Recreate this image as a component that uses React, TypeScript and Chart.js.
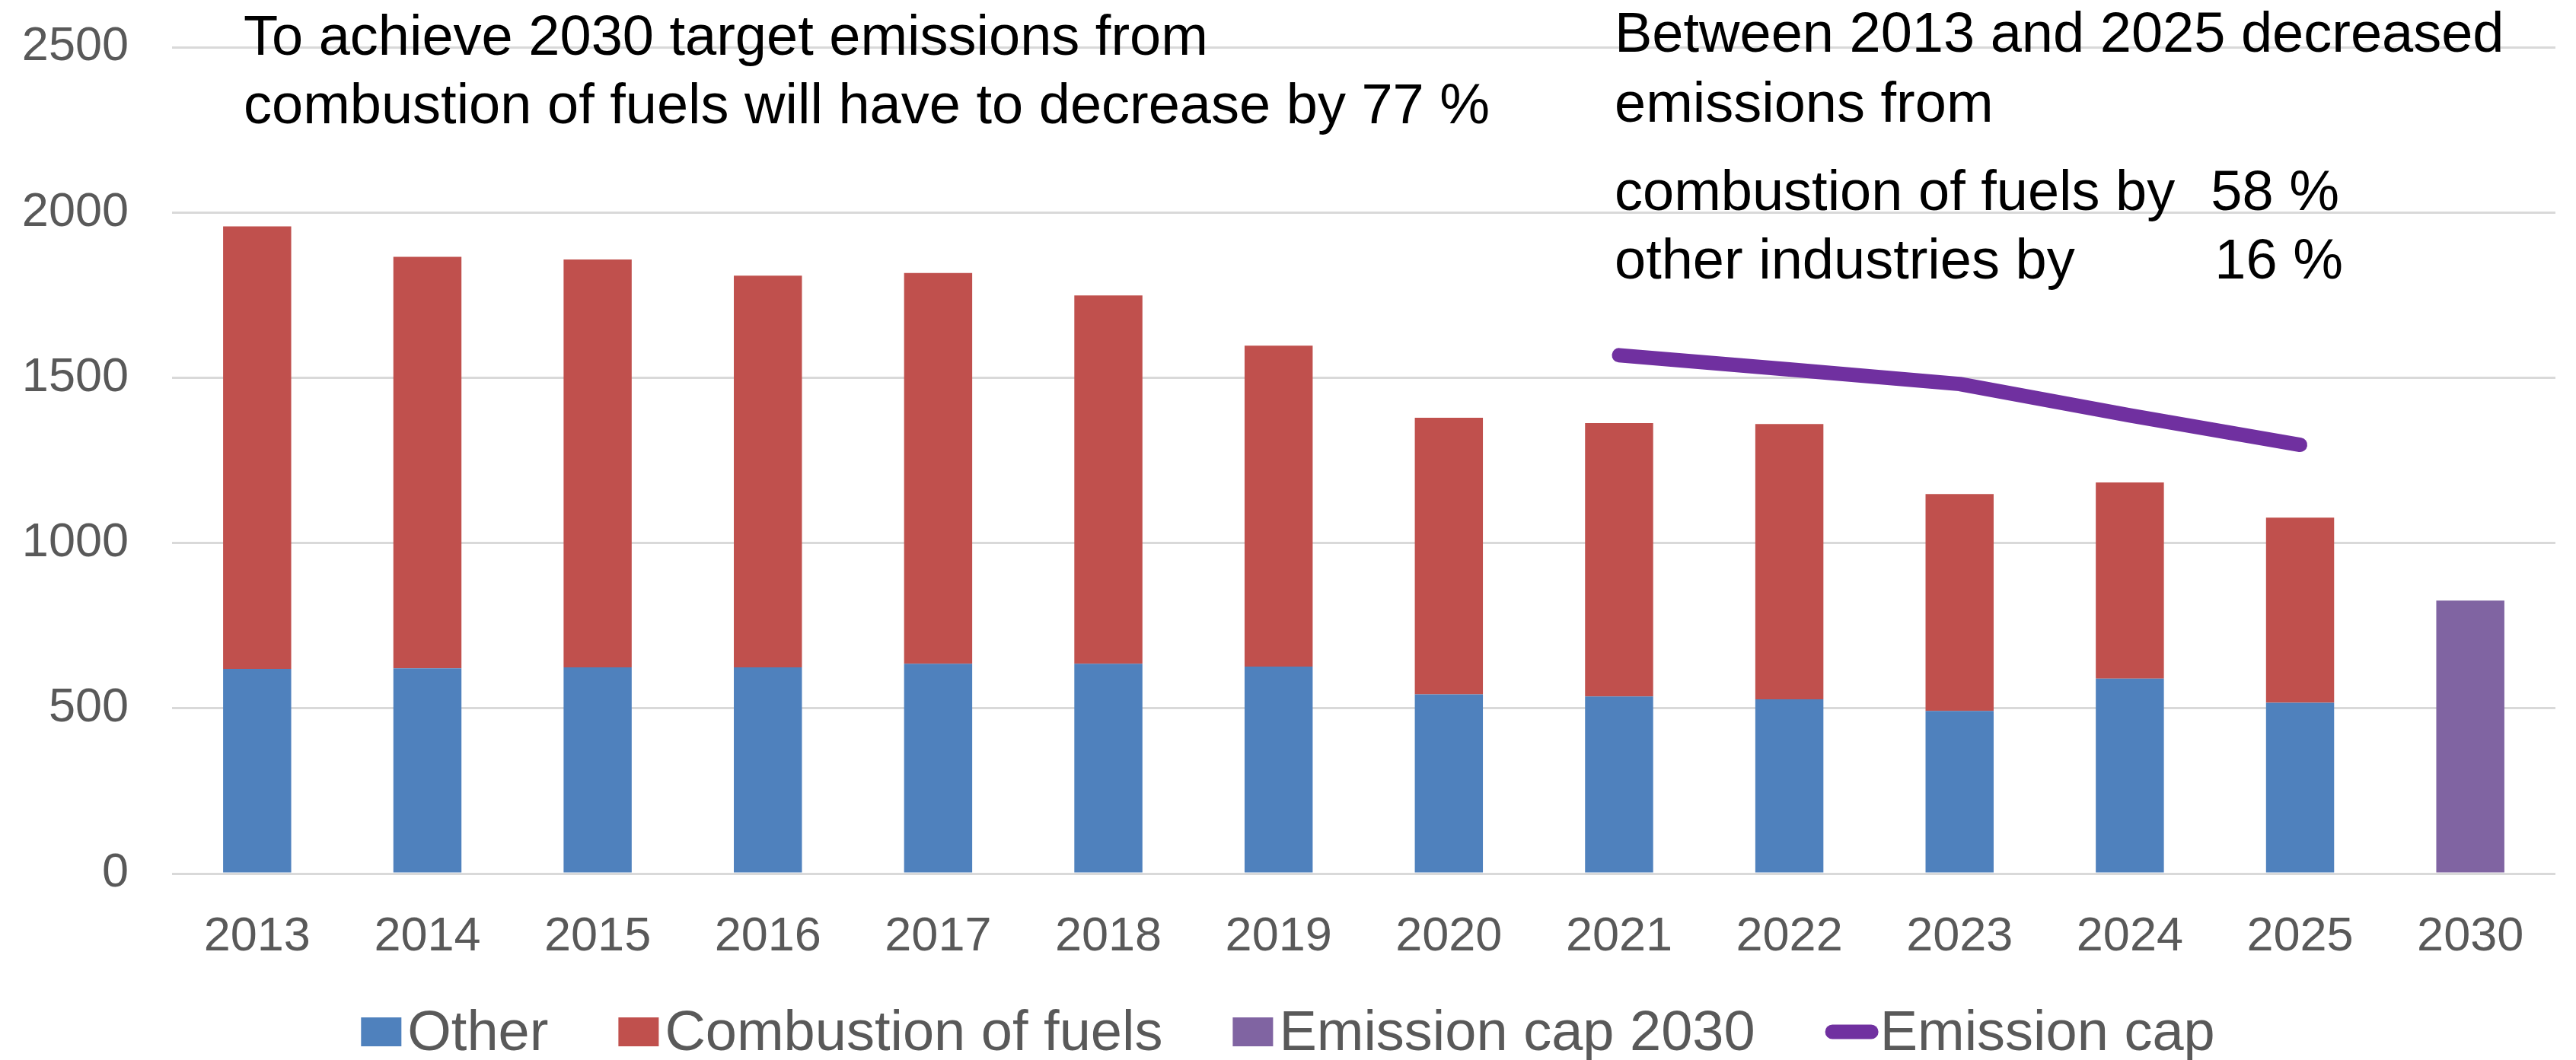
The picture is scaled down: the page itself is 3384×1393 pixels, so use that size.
import { useEffect, useRef } from "react";
import { Chart, registerables } from "chart.js";

Chart.register(...registerables);

const years = ["2013", "2014", "2015", "2016", "2017", "2018", "2019", "2020", "2021", "2022", "2023", "2024", "2025", "2030"];
const other = [619, 621, 624, 624, 635, 635, 626, 542, 536, 527, 492, 590, 517, null];
const combustion = [1339, 1245, 1234, 1185, 1182, 1114, 971, 837, 827, 833, 656, 593, 560, null];
const cap2030 = [null, null, null, null, null, null, null, null, null, null, null, null, null, 826];
const emissionCap = [null, null, null, null, null, null, null, null, 1568, 1525, 1481, 1386, 1297, null];
const yTicks = [0, 500, 1000, 1500, 2000, 2500];

const leftNote = ["To achieve 2030 target emissions from", "combustion of fuels will have to decrease by 77 %"];
const rightNote = ["Between 2013 and 2025 decreased", "emissions from"];
const rightRows = [
  ["combustion of fuels by", "58 %"],
  ["other industries by", "16 %"],
];

const FONT = "'Liberation Sans', Arial, Helvetica, sans-serif";

export default function App() {
  const ref = useRef<HTMLCanvasElement | null>(null);

  useEffect(() => {
    document.body.style.margin = "0";
    if (!ref.current) return;

    const notesPlugin = {
      id: "notes",
      afterDraw(chart: any) {
        const ctx = chart.ctx as CanvasRenderingContext2D;
        ctx.save();
        ctx.fillStyle = "#000000";
        ctx.font = `74px ${FONT}`;
        ctx.textBaseline = "alphabetic";
        ctx.textAlign = "left";
        ctx.fillText(leftNote[0], 320, 72);
        ctx.fillText(leftNote[1], 320, 162);
        ctx.fillText(rightNote[0], 2121, 68);
        ctx.fillText(rightNote[1], 2121, 160);
        const rowY = [276, 366];
        const rowRight = [3073, 3078];
        rightRows.forEach((r, i) => {
          ctx.textAlign = "left";
          ctx.fillText(r[0], 2121, rowY[i]);
          ctx.textAlign = "right";
          ctx.fillText(r[1], rowRight[i], rowY[i]);
        });
        ctx.restore();
      },
    };

    const legendPlugin = {
      id: "customLegend",
      afterDraw(chart: any) {
        const ctx = chart.ctx as CanvasRenderingContext2D;
        ctx.save();
        ctx.font = `74px ${FONT}`;
        ctx.textBaseline = "alphabetic";
        ctx.textAlign = "left";
        const items = chart.data.datasets.map((ds: any) => {
          const isLine = ds.type === "line";
          const mw = isLine ? 70 : 53;
          const gap = isLine ? 2 : 8;
          const tw = ctx.measureText(ds.label).width;
          return { ds, isLine, mw, gap, tw, w: mw + gap + tw };
        });
        const itemGap = 92;
        const total = items.reduce((s: number, it: any) => s + it.w, 0) + itemGap * (items.length - 1);
        let x = chart.width / 2 - total / 2;
        const cy = 1356;
        const baseline = 1380;
        items.forEach((it: any) => {
          if (it.isLine) {
            ctx.strokeStyle = it.ds.borderColor;
            ctx.lineWidth = 19;
            ctx.lineCap = "round";
            ctx.beginPath();
            ctx.moveTo(x + 9.5, cy);
            ctx.lineTo(x + it.mw - 9.5, cy);
            ctx.stroke();
          } else {
            ctx.fillStyle = it.ds.backgroundColor;
            ctx.fillRect(x, cy - 19, it.mw, 38);
          }
          ctx.fillStyle = "#595959";
          ctx.fillText(it.ds.label, x + it.mw + it.gap, baseline);
          x += it.w + itemGap;
        });
        ctx.restore();
      },
    };

    const tickFont = { family: FONT, size: 63 };

    const chart = new Chart(ref.current, {
      type: "bar",
      data: {
        labels: years,
        datasets: [
          {
            type: "bar",
            label: "Other",
            data: other,
            backgroundColor: "#4F81BD",
            borderWidth: 0,
            order: 1,
            categoryPercentage: 1,
            barPercentage: 0.4,
          },
          {
            type: "bar",
            label: "Combustion of fuels",
            data: combustion,
            backgroundColor: "#C0504D",
            borderWidth: 0,
            order: 1,
            categoryPercentage: 1,
            barPercentage: 0.4,
          },
          {
            type: "bar",
            label: "Emission cap 2030",
            data: cap2030,
            backgroundColor: "#8064A2",
            borderWidth: 0,
            order: 1,
            categoryPercentage: 1,
            barPercentage: 0.4,
          },
          {
            type: "line",
            label: "Emission cap",
            data: emissionCap,
            borderColor: "#7030A0",
            backgroundColor: "#7030A0",
            borderWidth: 19,
            borderCapStyle: "round",
            borderJoinStyle: "round",
            pointRadius: 0,
            pointHoverRadius: 0,
            fill: false,
            tension: 0,
            order: 0,
          },
        ] as any,
      },
      options: {
        animation: false,
        responsive: false,
        devicePixelRatio: 1,
        layout: { padding: { left: 0, right: 27, top: 62, bottom: 131 } },
        plugins: {
          legend: { display: false },
          tooltip: { enabled: false },
          title: { display: false },
        },
        scales: {
          x: {
            stacked: true,
            grid: { display: false },
            border: { display: false },
            ticks: { font: tickFont, color: "#595959", padding: 38, maxRotation: 0, autoSkip: false },
            afterFit: (axis: any) => {
              axis.height = 114;
              axis.paddingLeft = 0;
              axis.paddingRight = 0;
            },
          },
          y: {
            stacked: true,
            min: 0,
            max: 2500,
            afterBuildTicks: (axis: any) => {
              axis.ticks = yTicks.map((v) => ({ value: v }));
            },
            afterFit: (axis: any) => {
              axis.width = 226;
              axis.paddingTop = 0;
              axis.paddingBottom = 0;
            },
            grid: { color: "#D9D9D9", lineWidth: 3, drawTicks: false },
            border: { display: false },
            ticks: {
              font: tickFont,
              color: "#595959",
              padding: 57,
              callback: (v: any) => String(v),
            },
          },
        },
      } as any,
      plugins: [notesPlugin, legendPlugin],
    });

    return () => chart.destroy();
  }, []);

  return (
    <div style={{ width: 3384, height: 1393 }}>
      <canvas ref={ref} width={3384} height={1393} style={{ width: 3384, height: 1393, display: "block" }} />
    </div>
  );
}
